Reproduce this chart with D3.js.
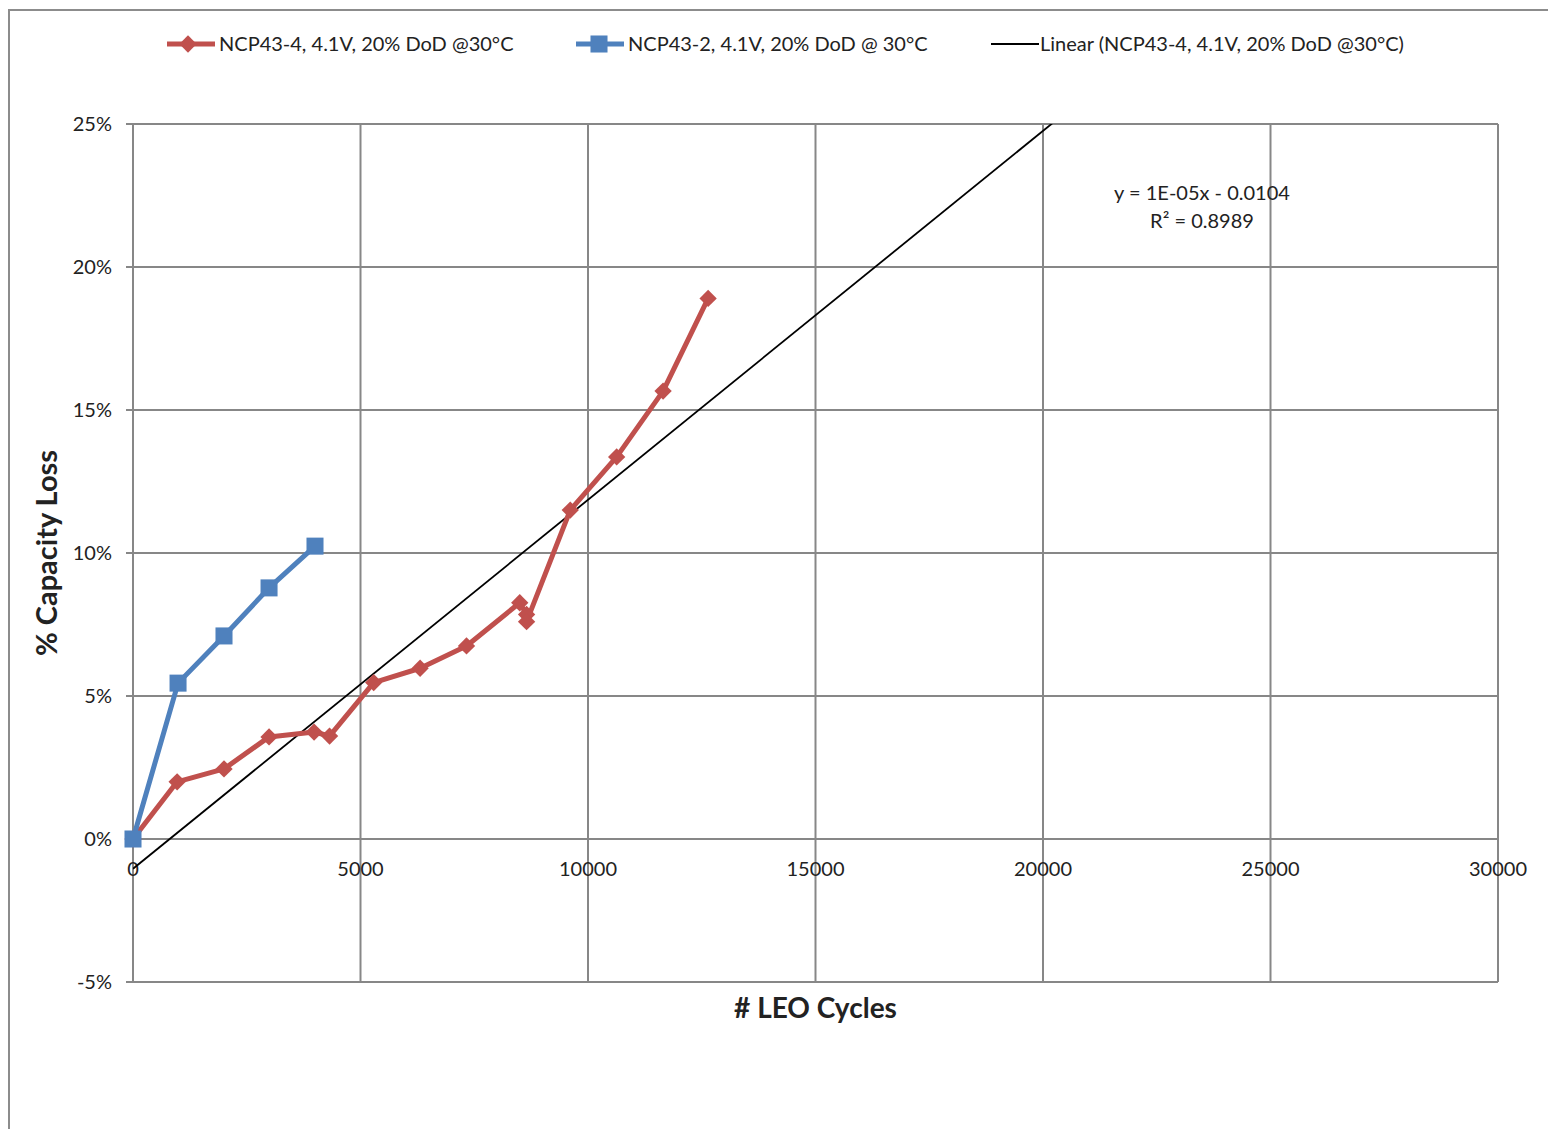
<!DOCTYPE html>
<html>
<head>
<meta charset="utf-8">
<script src="https://cdn.jsdelivr.net/npm/d3@7"></script>
<style>
  body { margin: 0; background: #fff; }
  text { font-family: Lato, "Open Sans", sans-serif; fill: #222; }
</style>
</head>
<body>
<script>
// data (x = cycles, y = % capacity loss)
var redX = [0, 970, 2000, 2990, 3980, 4320, 5290, 6310, 7330, 8500, 8650, 8650, 9610, 10630, 11650, 12640];
var redY = [0, 2.0, 2.45, 3.57, 3.74, 3.6, 5.47, 5.97, 6.75, 8.26, 7.85, 7.6, 11.5, 13.36, 15.66, 18.9];
var blueX = [0, 990, 2000, 2990, 4000];
var blueY = [0, 5.45, 7.1, 8.78, 10.24];

// linear trend of the red series (% per cycle, %)
var trendSlope = 0.00129;
var trendIntercept = -1.04;

var xTicks = [0, 5000, 10000, 15000, 20000, 25000, 30000];
var yTicks = [-5, 0, 5, 10, 15, 20, 25];

var legendNames = ["NCP43-4, 4.1V, 20% DoD @30°C", "NCP43-2, 4.1V, 20% DoD @ 30°C", "Linear (NCP43-4, 4.1V, 20% DoD @30°C)"];

// sizes
var W = 1548, H = 1129;
var padL = 133, padR = 1498, padT = 124, padB = 982;
var gridCol = "#878787";
var red = "#C0504D", blue = "#4F81BD";

var svg = d3.select("body").append("svg")
  .attr("width", W).attr("height", H);

// outer chart border (runs off the picture right and bottom)
svg.append("rect").attr("x", 9).attr("y", 10)
  .attr("width", W + 20).attr("height", H + 20)
  .attr("fill", "none").attr("stroke", "#8c8c8c").attr("stroke-width", 2);

var xScale = d3.scaleLinear().domain([0, 30000]).range([padL, padR]);
var yScale = d3.scaleLinear().domain([-5, 25]).range([padB, padT]);

// gridlines
svg.append("g").selectAll("line").data(yTicks).enter().append("line")
  .attr("x1", padL - 7).attr("x2", padR)
  .attr("y1", function(d){ return yScale(d); })
  .attr("y2", function(d){ return yScale(d); })
  .attr("stroke", gridCol).attr("stroke-width", 2);
svg.append("g").selectAll("line").data(xTicks).enter().append("line")
  .attr("x1", function(d){ return xScale(d); })
  .attr("x2", function(d){ return xScale(d); })
  .attr("y1", padT).attr("y2", padB)
  .attr("stroke", gridCol).attr("stroke-width", 2);

// tick labels
svg.append("g").selectAll("text").data(yTicks).enter().append("text")
  .attr("x", 112).attr("y", function(d){ return yScale(d); })
  .attr("dy", "0.35em").attr("text-anchor", "end")
  .style("font-size", "20px")
  .text(function(d){ return d + "%"; });
svg.append("g").selectAll("text").data(xTicks).enter().append("text")
  .attr("x", function(d){ return xScale(d); }).attr("y", yScale(0) + 30)
  .attr("dy", "0.35em").attr("text-anchor", "middle")
  .style("font-size", "20px")
  .text(function(d){ return d; });

// axis titles
svg.append("text").attr("x", xScale(15000)).attr("y", 1008).attr("dy", "0.35em")
  .attr("text-anchor", "middle").style("font-size", "28px").style("font-weight", "bold")
  .text("# LEO Cycles");
svg.append("text").attr("transform", "translate(47," + yScale(10) + ") rotate(-90)")
  .attr("dy", "0.35em").attr("text-anchor", "middle")
  .style("font-size", "29px").style("font-weight", "bold")
  .text("% Capacity Loss");

// clip for trend line
svg.append("clipPath").attr("id", "plotclip").append("rect")
  .attr("x", padL).attr("y", padT).attr("width", padR - padL).attr("height", padB - padT);

// trend line
var trendXs = [0, 30000];
svg.append("line").attr("clip-path", "url(#plotclip)")
  .attr("x1", xScale(trendXs[0])).attr("y1", yScale(trendIntercept + trendSlope * trendXs[0]))
  .attr("x2", xScale(trendXs[1])).attr("y2", yScale(trendIntercept + trendSlope * trendXs[1]))
  .attr("stroke", "#000").attr("stroke-width", 1.8);

// trend equation
svg.append("text").attr("x", 1202).attr("y", 193).attr("dy", "0.35em")
  .attr("text-anchor", "middle").style("font-size", "20px")
  .text("y = 1E-05x - 0.0104");
svg.append("text").attr("x", 1202).attr("y", 221).attr("dy", "0.35em")
  .attr("text-anchor", "middle").style("font-size", "20px")
  .text("R² = 0.8989");

var line = d3.line()
  .x(function(d){ return xScale(d[0]); })
  .y(function(d){ return yScale(d[1]); });

var redPts = d3.zip(redX, redY);
var bluePts = d3.zip(blueX, blueY);

var diamond = d3.symbol().type(d3.symbolSquare).size(150);
var square = d3.symbol().type(d3.symbolSquare).size(290);

// red series
svg.append("path").datum(redPts).attr("d", line)
  .attr("fill", "none").attr("stroke", red).attr("stroke-width", 5)
  .attr("stroke-linejoin", "round");
svg.append("g").selectAll("path").data(redPts).enter().append("path")
  .attr("d", diamond)
  .attr("transform", function(d){ return "translate(" + xScale(d[0]) + "," + yScale(d[1]) + ") rotate(45)"; })
  .attr("fill", red);

// blue series
svg.append("path").datum(bluePts).attr("d", line)
  .attr("fill", "none").attr("stroke", blue).attr("stroke-width", 5)
  .attr("stroke-linejoin", "round");
svg.append("g").selectAll("path").data(bluePts).enter().append("path")
  .attr("d", square)
  .attr("transform", function(d){ return "translate(" + xScale(d[0]) + "," + yScale(d[1]) + ")"; })
  .attr("fill", blue);

// legend
var legX = [167, 576, 991];
var legCol = [red, blue, "#000"];
var leg = svg.append("g").selectAll("g").data(legendNames).enter().append("g")
  .attr("transform", function(d, i){ return "translate(" + legX[i] + ",44)"; });
leg.append("line").attr("x1", 0).attr("x2", 48)
  .attr("stroke", function(d, i){ return legCol[i]; })
  .attr("stroke-width", function(d, i){ return i == 2 ? 1.8 : 5; });
leg.filter(function(d, i){ return i == 0; }).append("path")
  .attr("d", diamond).attr("transform", "translate(21,0) rotate(45)").attr("fill", red);
leg.filter(function(d, i){ return i == 1; }).append("path")
  .attr("d", square).attr("transform", "translate(23,0)").attr("fill", blue);
leg.append("text").attr("x", function(d, i){ return i == 2 ? 49 : 52; })
  .attr("dy", "0.35em").style("font-size", "20px")
  .text(function(d){ return d; });
</script>
</body>
</html>
